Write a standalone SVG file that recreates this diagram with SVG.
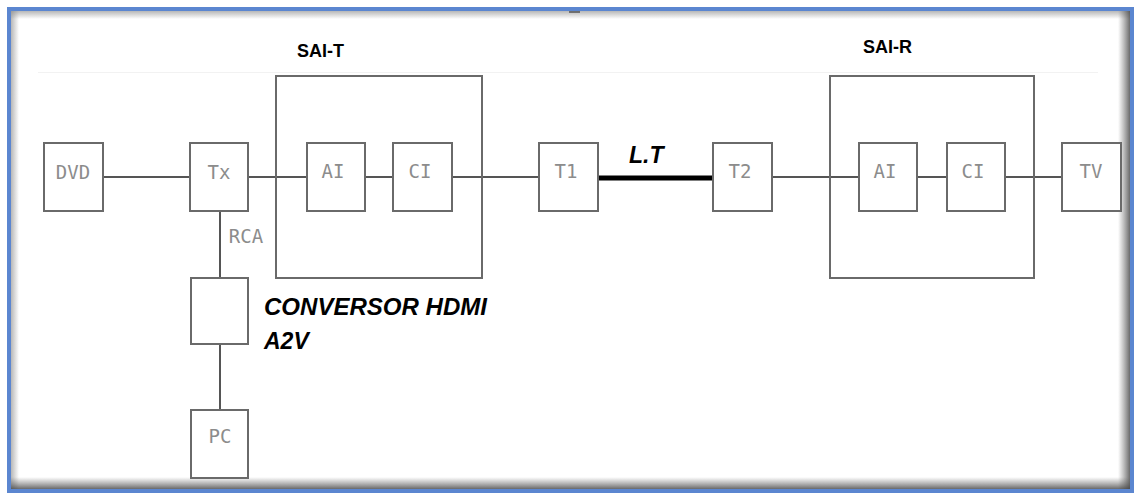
<svg xmlns="http://www.w3.org/2000/svg" width="1135" height="493" viewBox="0 0 1135 493">
<defs>
<linearGradient id="gT" x1="0" y1="0" x2="0" y2="1"><stop offset="0" stop-color="#888" stop-opacity="0.6"/><stop offset="1" stop-color="#888" stop-opacity="0"/></linearGradient>
<linearGradient id="gB" x1="0" y1="1" x2="0" y2="0"><stop offset="0" stop-color="#444" stop-opacity="0.8"/><stop offset="1" stop-color="#666" stop-opacity="0"/></linearGradient>
<linearGradient id="gL" x1="0" y1="0" x2="1" y2="0"><stop offset="0" stop-color="#888" stop-opacity="0.6"/><stop offset="1" stop-color="#888" stop-opacity="0"/></linearGradient>
<linearGradient id="gR" x1="1" y1="0" x2="0" y2="0"><stop offset="0" stop-color="#444" stop-opacity="0.8"/><stop offset="1" stop-color="#666" stop-opacity="0"/></linearGradient>
</defs>
<style>
.box{fill:#fff;stroke:#6a6a6a;stroke-width:2}
.grp{fill:none;stroke:#6a6a6a;stroke-width:2}
.ln{stroke:#555;stroke-width:2;fill:none}
.lt{stroke:#000;stroke-width:5;fill:none}
.lbl{font-family:"DejaVu Sans Mono",monospace;font-size:19px;fill:#8c8c8c;text-anchor:middle}
.ttl{font-family:"Liberation Sans",Arial,sans-serif;font-weight:bold;font-size:18px;fill:#000}
.note{font-family:"Liberation Sans",Arial,sans-serif;font-weight:bold;font-style:italic;fill:#000}
</style>
<rect x="0" y="0" width="1135" height="493" fill="#fff"/>
<g id="frame">
<rect x="11" y="11" width="1119" height="8" fill="url(#gT)"/>
<rect x="11" y="11" width="8" height="478" fill="url(#gL)"/>
<rect x="1118" y="11" width="12" height="478" fill="url(#gR)"/>
<rect x="11" y="477" width="1119" height="12" fill="url(#gB)"/>
<rect x="9" y="9" width="1123" height="482" fill="none" stroke="#5b86d0" stroke-width="4"/>
<line x1="569" y1="12" x2="580" y2="12" stroke="#555" stroke-width="1.5"/>
<line x1="38" y1="72.5" x2="1098" y2="72.5" stroke="#f2f2f2" stroke-width="1"/>
</g>
<g id="connectors">
<line class="ln" x1="103" y1="177" x2="190" y2="177"/>
<line class="ln" x1="248" y1="177" x2="307" y2="177"/>
<line class="ln" x1="365" y1="177" x2="393" y2="177"/>
<line class="ln" x1="452" y1="177" x2="539" y2="177"/>
<line class="lt" x1="598" y1="178" x2="713" y2="178"/>
<line class="ln" x1="772" y1="177" x2="859" y2="177"/>
<line class="ln" x1="917" y1="177" x2="947" y2="177"/>
<line class="ln" x1="1005" y1="177" x2="1062" y2="177"/>
<line class="ln" x1="220" y1="211" x2="220" y2="278"/>
<line class="ln" x1="220" y1="344" x2="220" y2="410"/>
</g>
<g id="sai-t">
<rect class="grp" x="276" y="76" width="206" height="202"/>
<text class="ttl" x="297" y="57">SAI-T</text>
</g>
<g id="sai-r">
<rect class="grp" x="830" y="76" width="204" height="202"/>
<text class="ttl" x="863" y="53">SAI-R</text>
</g>
<g id="dvd"><rect class="box" x="44" y="143" width="59" height="68"/><text class="lbl" x="73" y="179">DVD</text></g>
<g id="tx"><rect class="box" x="190" y="143" width="58" height="68"/><text class="lbl" x="219" y="179">Tx</text></g>
<g id="ai-t"><rect class="box" x="307" y="143" width="58" height="68"/><text class="lbl" x="333" y="178">AI</text></g>
<g id="ci-t"><rect class="box" x="393" y="143" width="59" height="68"/><text class="lbl" x="420" y="178">CI</text></g>
<g id="t1"><rect class="box" x="539" y="143" width="59" height="68"/><text class="lbl" x="566" y="178">T1</text></g>
<g id="t2"><rect class="box" x="713" y="143" width="59" height="68"/><text class="lbl" x="740" y="178">T2</text></g>
<g id="ai-r"><rect class="box" x="859" y="143" width="58" height="68"/><text class="lbl" x="885" y="178">AI</text></g>
<g id="ci-r"><rect class="box" x="947" y="143" width="58" height="68"/><text class="lbl" x="973" y="178">CI</text></g>
<g id="tv"><rect class="box" x="1062" y="143" width="59" height="68"/><text class="lbl" x="1091" y="178">TV</text></g>
<g id="rca"><text class="lbl" x="246" y="243">RCA</text></g>
<g id="conversor"><rect class="box" x="191" y="278" width="57" height="66"/>
<text class="note" x="264" y="315" font-size="23" textLength="223" lengthAdjust="spacingAndGlyphs">CONVERSOR HDMI</text>
<text class="note" x="264" y="349" font-size="23">A2V</text></g>
<g id="pc"><rect class="box" x="191" y="410" width="57" height="68"/><text class="lbl" x="220" y="443">PC</text></g>
<g id="lt-label"><text class="note" x="629" y="163" font-size="23">L.T</text></g>
</svg>
